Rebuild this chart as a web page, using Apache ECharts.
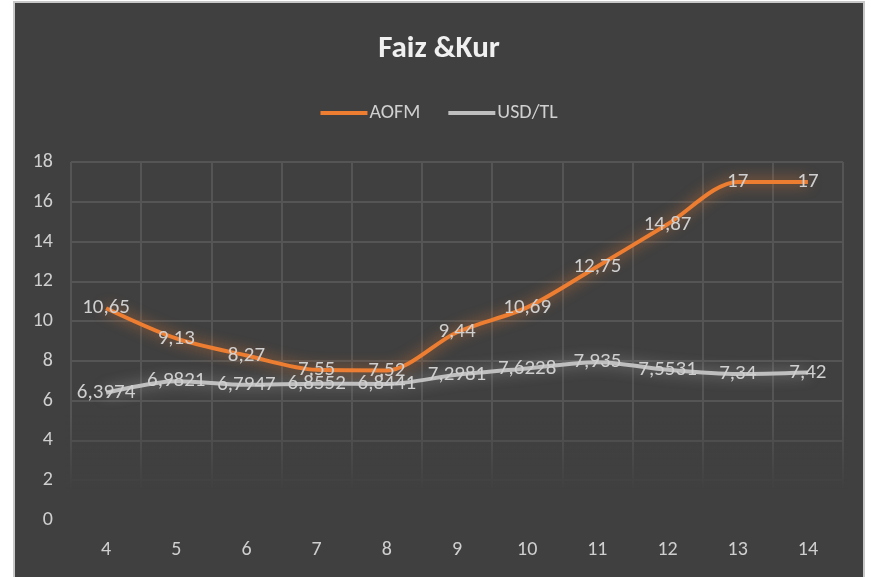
<!DOCTYPE html>
<html>
<head>
<meta charset="utf-8">
<script src="https://cdn.jsdelivr.net/npm/echarts@6/dist/echarts.min.js"></script>
<style>
  html, body { margin: 0; padding: 0; background: #fff; width: 871px; height: 577px; overflow: hidden; }
  #main { position: absolute; left: 13px; top: 1px; width: 848px; height: 576px;
          background: #404040; border: 2px solid #c8c8c8; border-bottom: none; }
</style>
</head>
<body>
<div id="main"></div>
<script>
// chart data
const categories = ['4', '5', '6', '7', '8', '9', '10', '11', '12', '13', '14'];
const aofm = [10.65, 9.13, 8.27, 7.55, 7.52, 9.44, 10.69, 12.75, 14.87, 17, 17];
const usdTl = [6.3974, 6.9821, 6.7947, 6.8552, 6.8441, 7.2981, 7.6228, 7.935, 7.5531, 7.34, 7.42];

const myChart = echarts.init(document.getElementById('main'));
const font = "Carlito, Lato, sans-serif";

// comma decimal like the source
const fmt = p => String(p.value).replace('.', ',');

function makeSeries(name, values, color, glow) {
  return {
    name: name,
    type: 'line',
    z: 5,
    data: values,
    smooth: 0.3,
    symbol: 'circle',
    symbolSize: 0,
    showSymbol: true,
    lineStyle: { color: color, width: 4, shadowColor: glow, shadowBlur: 14 },
    itemStyle: { color: color },
    label: {
      show: true,
      position: 'inside',
      formatter: fmt,
      color: '#cfcfcf',
      fontFamily: font,
      fontSize: 21
    },
    emphasis: { disabled: true }
  };
}

const options = {
  animation: false,
  title: {
    text: 'Faiz &Kur',
    left: 'center',
    top: 26,
    textStyle: { color: '#f0f0f0', fontFamily: font, fontSize: 31, fontWeight: 'bold' }
  },
  legend: {
    top: 95,
    left: 'center',
    icon: 'rect',
    itemWidth: 47,
    itemHeight: 4,
    itemGap: 28,
    textStyle: { color: '#d0d0d0', fontFamily: font, fontSize: 20, padding: [0, 0, 0, -3] },
    data: ['AOFM', 'USD/TL']
  },
  grid: { left: 56, right: 20, top: 159, bottom: 59, containLabel: false },
  // soft fade of the gridlines toward the bottom, as in the source picture
  graphic: [{
    type: 'rect',
    z: 1,
    silent: true,
    shape: { x: 50, y: 412, width: 784, height: 106 },
    style: {
      fill: new echarts.graphic.LinearGradient(0, 0, 0, 1, [
        { offset: 0, color: 'rgba(64,64,64,0)' },
        { offset: 0.7, color: 'rgba(64,64,64,1)' },
        { offset: 1, color: 'rgba(64,64,64,1)' }
      ])
    }
  }],
  xAxis: {
    type: 'category',
    data: categories,
    boundaryGap: true,
    axisLine: { show: false },
    axisTick: { show: false },
    axisLabel: { color: '#cfcfcf', fontFamily: font, fontSize: 20, margin: 20 },
    splitLine: { show: true, lineStyle: { color: '#555555', width: 2 } }
  },
  yAxis: {
    type: 'value',
    min: 0,
    max: 18,
    interval: 2,
    axisLine: { show: false },
    axisTick: { show: false },
    axisLabel: { color: '#cfcfcf', fontFamily: font, fontSize: 20, margin: 18, align: 'right' },
    splitLine: { lineStyle: { color: '#555555', width: 2 } }
  },
  series: [
    makeSeries('AOFM', aofm, '#ED7D31', 'rgba(237,125,49,0.8)'),
    makeSeries('USD/TL', usdTl, '#BFBFBF', 'rgba(200,200,200,0.6)')
  ]
};

myChart.setOption(options);
</script>
</body>
</html>
